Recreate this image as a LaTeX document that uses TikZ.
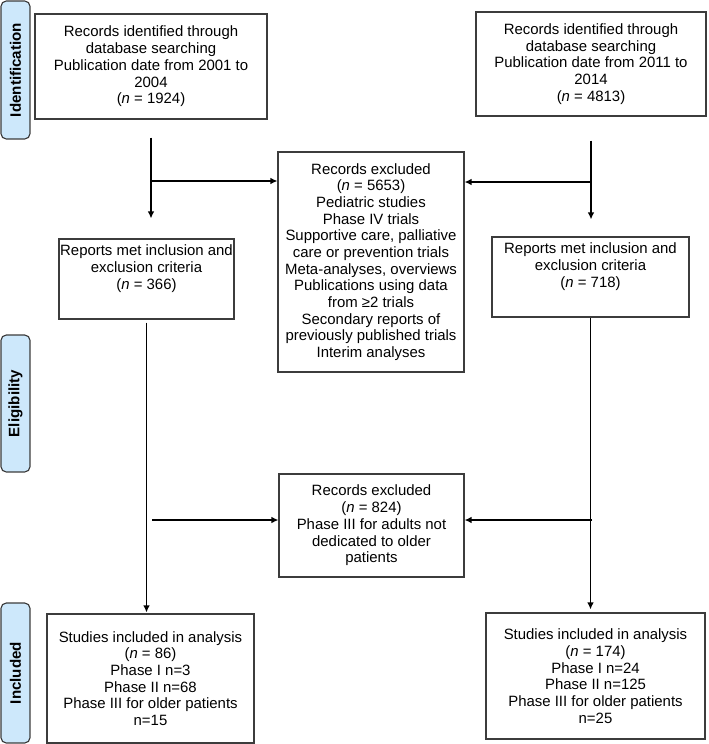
\documentclass[tikz,border=0pt]{standalone}
\usepackage{fontspec}
\setmainfont{Liberation Sans}
\usetikzlibrary{arrows.meta,positioning}
\definecolor{stageblue}{RGB}{205,232,251}
\definecolor{boxgray}{RGB}{60,60,60}

\begin{document}
\begin{tikzpicture}[x=0.02cm,y=-0.02cm,every node/.style={font=\fontsize{8.5}{9.5}\selectfont,align=center,inner sep=0pt},
    box/.style={draw=boxgray,line width=0.65pt},
    stage/.style={draw=boxgray,line width=0.65pt,fill=stageblue,rounded corners=3pt,rotate=90,minimum height=0.58cm,font=\fontsize{8.6}{10}\selectfont\bfseries},
    flow/.style={-{Latex[length=4pt,width=3.8pt]},line width=0.8pt}]
      \useasboundingbox (0,0) rectangle (708,744);
      \node[stage,minimum width=2.76cm] (ident) at (15.5,70) {Identification};
      \node[stage,minimum width=2.74cm] (elig) at (15.5,403.5) {Eligibility};
      \node[stage,minimum width=2.80cm] (incl) at (15.5,673) {Included};
      \node[box,minimum width=4.64cm,minimum height=2.10cm] (srcold) at (151,66.5) {Records identified through\\database searching\\Publication date from 2001 to\\2004\\(\textit{n} = 1924)};
      \node[box,minimum width=4.60cm,minimum height=2.08cm] (srcnew) at (591,64) {Records identified through\\database searching\\Publication date from 2011 to\\2014\\(\textit{n} = 4813)};
      \node[box,minimum width=3.72cm,minimum height=4.40cm] (exclfirst) at (371,262) {Records excluded\\(\textit{n} = 5653)\\Pediatric studies\\Phase IV trials\\Supportive care, palliative\\care or prevention trials\\Meta-analyses, overviews\\Publications using data\\from ≥2 trials\\Secondary reports of\\previously published trials\\Interim analyses};
      \node[box,minimum width=3.50cm,minimum height=1.60cm] (metold) at (146.5,279) {Reports met inclusion and\\exclusion criteria\\(\textit{n} = 366)\\[4pt]};
      \node[box,minimum width=3.94cm,minimum height=1.60cm] (metnew) at (590.5,277) {Reports met inclusion and\\exclusion criteria\\(\textit{n} = 718)\\[4pt]};
      \node[box,minimum width=3.70cm,minimum height=2.06cm] (exclsecond) at (371.5,525.5) {Records excluded\\(\textit{n} = 824)\\Phase III for adults not\\dedicated to older\\patients};
      \node[box,minimum width=4.14cm,minimum height=2.58cm] (inclold) at (150.5,678.5) {Studies included in analysis\\(\textit{n} = 86)\\Phase I n=3\\Phase II n=68\\Phase III for older patients\\n=15};
      \node[box,minimum width=4.38cm,minimum height=2.52cm] (inclnew) at (595.5,676) {Studies included in analysis\\(\textit{n} = 174)\\Phase I n=24\\Phase II n=125\\Phase III for older patients\\n=25};
      % upper stage
      \draw[flow,shorten <=0.36cm,shorten >=0.40cm] (srcold.south) -- (srcold.south |- metold.north);
      \draw[flow,shorten <=0.48cm,shorten >=0.34cm] (srcnew.south) -- (srcnew.south |- metnew.north);
      \coordinate (forkold) at (151,181);
      \coordinate (forknew) at (591,182);
      \draw[flow] (forkold) -- (forkold -| exclfirst.west);
      \draw[flow] (forknew) -- (forknew -| exclfirst.east);
      % lower stage
      \draw[flow,shorten <=0.06cm,shorten >=0.02cm] (metold.south) -- (metold.south |- inclold.north);
      \draw[flow,shorten >=0.06cm] (metnew.south) -- (metnew.south |- inclnew.north);
      \coordinate (joinold) at (152,520);
      \coordinate (joinnew) at (592,520);
      \draw[flow] (joinold) -- (joinold -| exclsecond.west);
      \draw[flow] (joinnew) -- (joinnew -| exclsecond.east);
    \end{tikzpicture}
\end{document}
